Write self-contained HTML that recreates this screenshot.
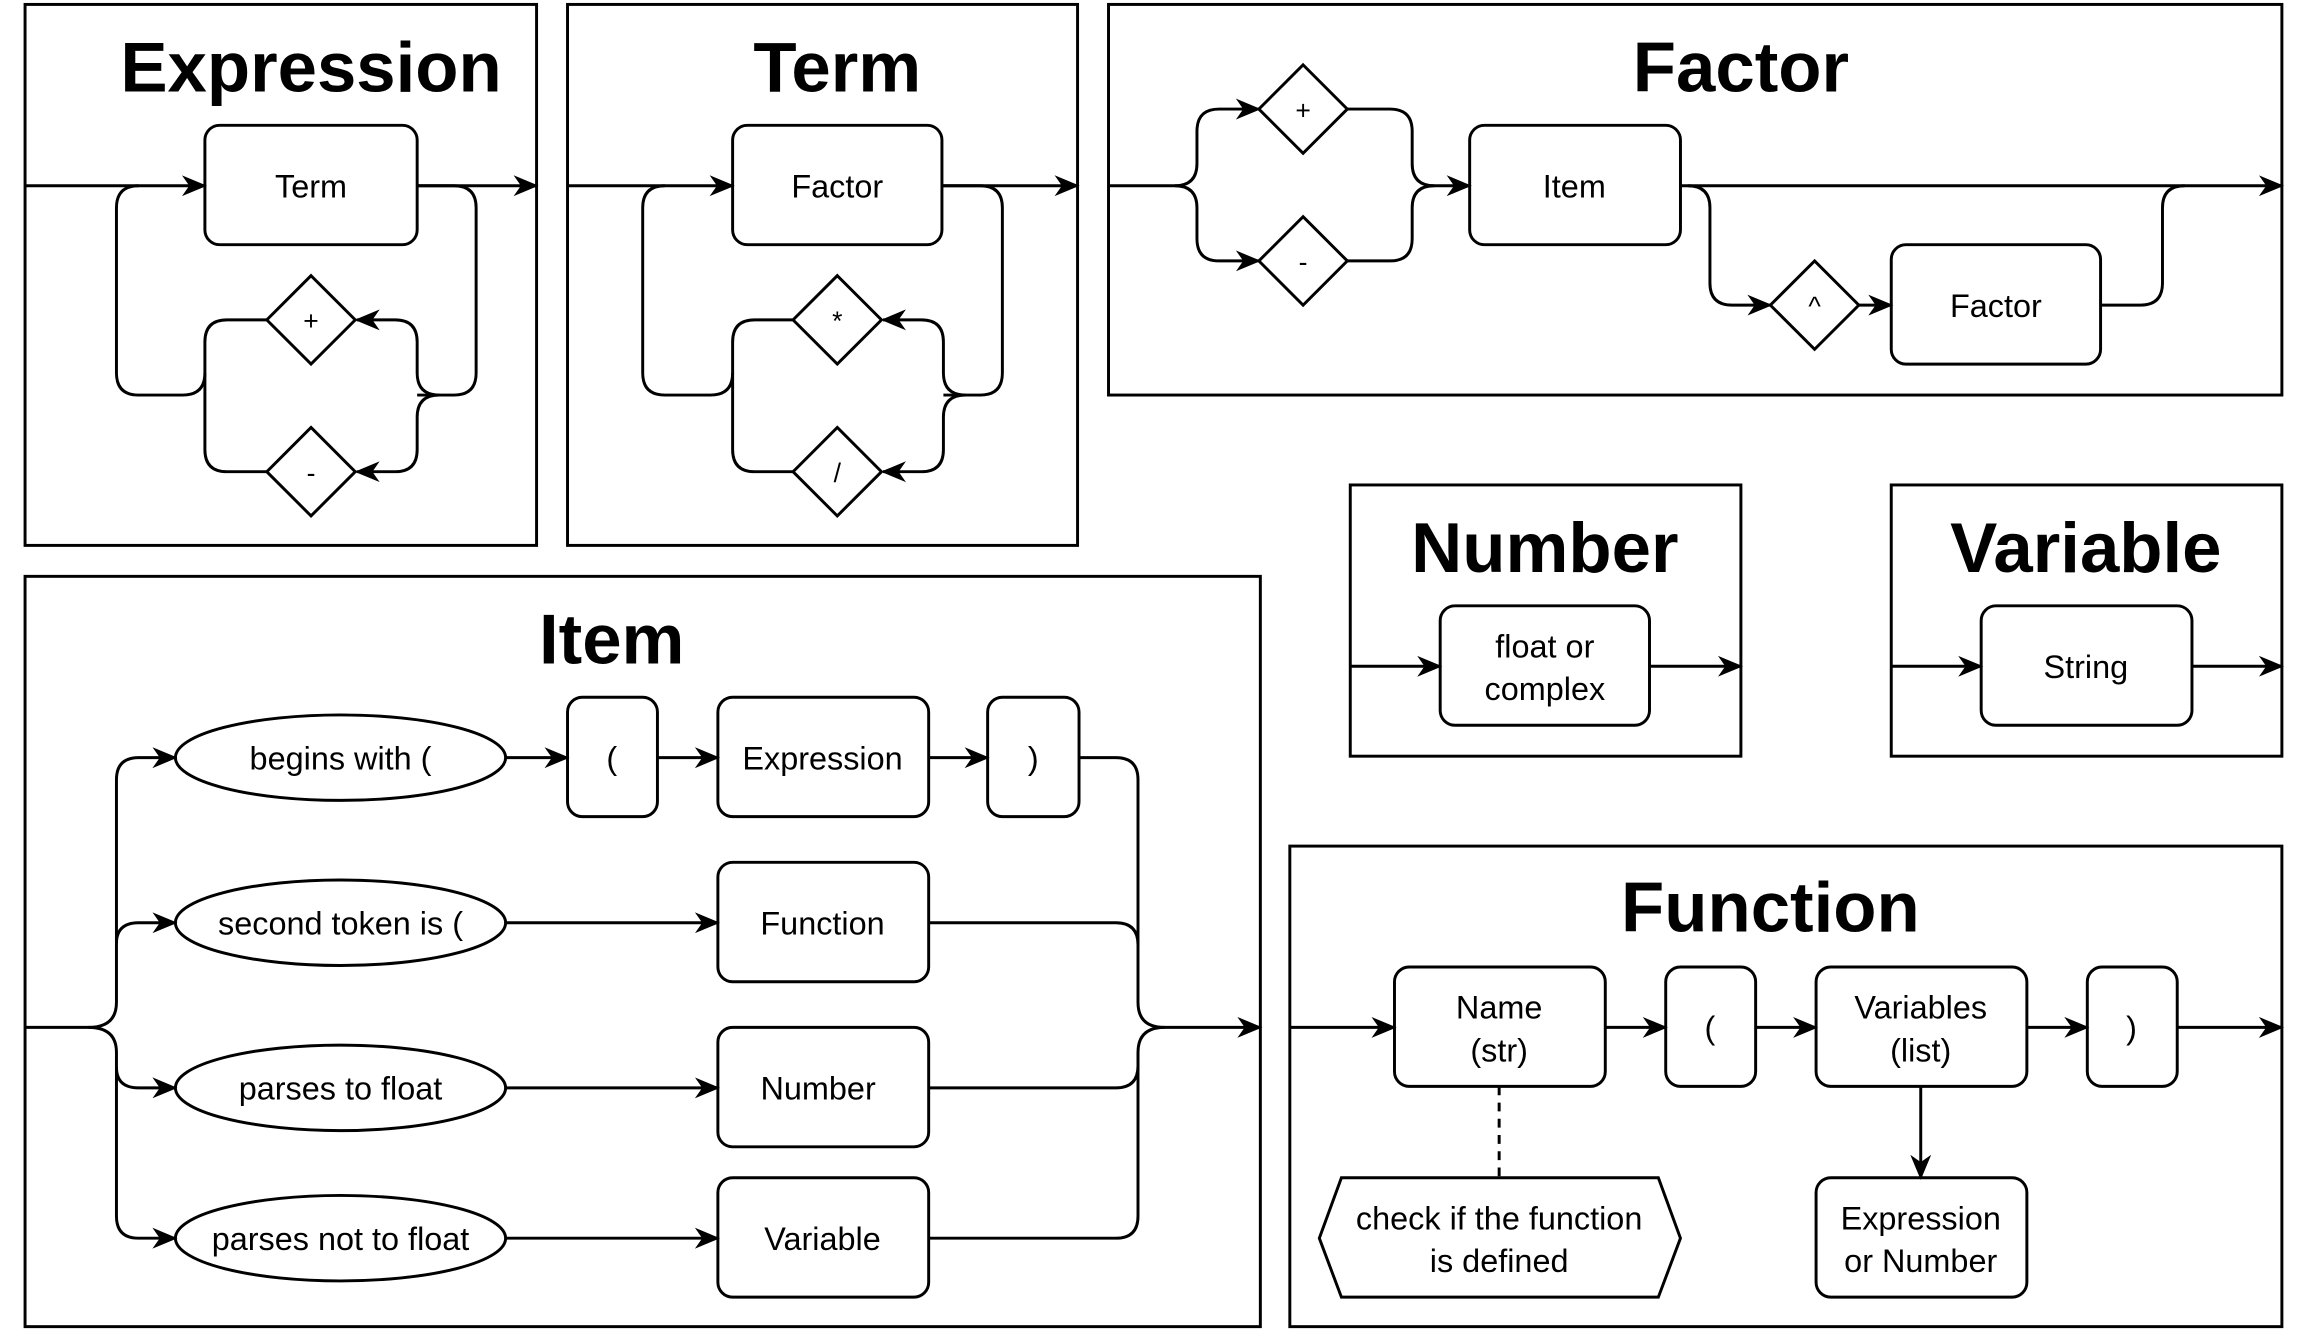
<!DOCTYPE html>
<html><head><meta charset="utf-8"><style>
html,body{margin:0;padding:0;background:#fff;}
svg{display:block;}
text{font-family:"Liberation Sans",sans-serif;fill:#000;}
.t{font-weight:bold;font-size:48px;text-anchor:middle;}
.l{font-size:22px;text-anchor:middle;}
</style></head><body>
<svg width="2304" height="1329" viewBox="0 0 1563 901.6" preserveAspectRatio="none" xmlns="http://www.w3.org/2000/svg">
<defs>
<marker id="a" viewBox="0 0 12 12" refX="11" refY="6" markerWidth="17" markerHeight="17" markerUnits="userSpaceOnUse" orient="auto">
<path d="M0,1 L12,6 L0,11 L3.5,6 Z" fill="#000"/></marker>
</defs>
<g fill="none" stroke="#000" stroke-width="2">
<rect x="17" y="3" width="347" height="367"/>
<rect x="385" y="3" width="346" height="367"/>
<rect x="752" y="3" width="796" height="265"/>
<rect x="916" y="329" width="265" height="184"/>
<rect x="1283" y="329" width="265" height="184"/>
<rect x="17" y="391" width="838" height="509"/>
<rect x="875" y="574" width="673" height="326"/>

<rect x="139" y="85" width="144" height="81" rx="10"/>
<path d="M17,126 L139,126" marker-end="url(#a)"/>
<path d="M283,126 L364,126" marker-end="url(#a)"/>
<path d="M283,126 L308,126 Q323,126 323,141 L323,253 Q323,268 308,268 L283,268"/>
<path d="M298,268 Q283,268 283,253 L283,232 Q283,217 268,217 L242,217" marker-end="url(#a)"/>
<path d="M298,268 Q283,268 283,283 L283,305 Q283,320 268,320 L242,320" marker-end="url(#a)"/>
<polygon points="211,187 241,217 211,247 181,217"/>
<polygon points="211,290 241,320 211,350 181,320"/>
<path d="M181,217 L154,217 Q139,217 139,232 L139,253 Q139,268 124,268 L94,268 Q79,268 79,253 L79,141 Q79,126 94,126"/>
<path d="M181,320 L154,320 Q139,320 139,305 L139,253"/>

<rect x="497" y="85" width="142" height="81" rx="10"/>
<path d="M385,126 L497,126" marker-end="url(#a)"/>
<path d="M639,126 L731,126" marker-end="url(#a)"/>
<path d="M639,126 L665,126 Q680,126 680,141 L680,253 Q680,268 665,268 L640,268"/>
<path d="M655,268 Q640,268 640,253 L640,232 Q640,217 625,217 L599,217" marker-end="url(#a)"/>
<path d="M655,268 Q640,268 640,283 L640,305 Q640,320 625,320 L599,320" marker-end="url(#a)"/>
<polygon points="568,187 598,217 568,247 538,217"/>
<polygon points="568,290 598,320 568,350 538,320"/>
<path d="M538,217 L512,217 Q497,217 497,232 L497,253 Q497,268 482,268 L451,268 Q436,268 436,253 L436,141 Q436,126 451,126"/>
<path d="M538,320 L512,320 Q497,320 497,305 L497,253"/>

<path d="M752,126 L797,126 Q812,126 812,111 L812,89 Q812,74 827,74 L854,74" marker-end="url(#a)"/>
<path d="M797,126 Q812,126 812,141 L812,162 Q812,177 827,177 L854,177" marker-end="url(#a)"/>
<polygon points="884,44 914,74 884,104 854,74"/>
<polygon points="884,147 914,177 884,207 854,177"/>
<path d="M914,74 L943,74 Q958,74 958,89 L958,111 Q958,126 973,126"/>
<path d="M914,177 L943,177 Q958,177 958,162 L958,141 Q958,126 973,126 L997,126" marker-end="url(#a)"/>
<rect x="997" y="85" width="143" height="81" rx="10"/>
<path d="M1140,126 L1548,126" marker-end="url(#a)"/>
<path d="M1145,126 Q1160,126 1160,141 L1160,192 Q1160,207 1175,207 L1201,207" marker-end="url(#a)"/>
<polygon points="1231,177 1261,207 1231,237 1201,207"/>
<path d="M1261,207 L1283,207" marker-end="url(#a)"/>
<rect x="1283" y="166" width="142" height="81" rx="10"/>
<path d="M1425,207 L1452,207 Q1467,207 1467,192 L1467,141 Q1467,126 1482,126"/>

<rect x="977" y="411" width="142" height="81" rx="10"/>
<path d="M916,452 L977,452" marker-end="url(#a)"/>
<path d="M1119,452 L1181,452" marker-end="url(#a)"/>
<rect x="1344" y="411" width="143" height="81" rx="10"/>
<path d="M1283,452 L1344,452" marker-end="url(#a)"/>
<path d="M1487,452 L1548,452" marker-end="url(#a)"/>

<path d="M17,697 L60,697 Q79,697 79,680 L79,529 Q79,514 94,514 L119,514" marker-end="url(#a)"/>
<path d="M79,640 Q79,626 94,626 L119,626" marker-end="url(#a)"/>
<path d="M60,697 Q79,697 79,714 L79,825 Q79,840 94,840 L119,840" marker-end="url(#a)"/>
<path d="M79,724 Q79,738 94,738 L119,738" marker-end="url(#a)"/>
<ellipse cx="231" cy="514" rx="112" ry="29"/>
<ellipse cx="231" cy="626" rx="112" ry="29"/>
<ellipse cx="231" cy="738" rx="112" ry="29"/>
<ellipse cx="231" cy="840" rx="112" ry="29"/>
<path d="M343,514 L385,514" marker-end="url(#a)"/>
<rect x="385" y="473" width="61" height="81" rx="10"/>
<path d="M446,514 L487,514" marker-end="url(#a)"/>
<rect x="487" y="473" width="143" height="81" rx="10"/>
<path d="M630,514 L670,514" marker-end="url(#a)"/>
<rect x="670" y="473" width="62" height="81" rx="10"/>
<path d="M343,626 L487,626" marker-end="url(#a)"/>
<rect x="487" y="585" width="143" height="81" rx="10"/>
<path d="M343,738 L487,738" marker-end="url(#a)"/>
<rect x="487" y="697" width="143" height="81" rx="10"/>
<path d="M343,840 L487,840" marker-end="url(#a)"/>
<rect x="487" y="799" width="143" height="81" rx="10"/>
<path d="M732,514 L757,514 Q772,514 772,529 L772,680 Q772,697 790,697 L855,697" marker-end="url(#a)"/>
<path d="M630,626 L757,626 Q772,626 772,641"/>
<path d="M630,738 L757,738 Q772,738 772,723 L772,714 Q772,697 790,697"/>
<path d="M630,840 L757,840 Q772,840 772,825 L772,714"/>

<path d="M875,697 L946,697" marker-end="url(#a)"/>
<rect x="946" y="656" width="143" height="81" rx="10"/>
<path d="M1089,697 L1130,697" marker-end="url(#a)"/>
<rect x="1130" y="656" width="61" height="81" rx="10"/>
<path d="M1191,697 L1232,697" marker-end="url(#a)"/>
<rect x="1232" y="656" width="143" height="81" rx="10"/>
<path d="M1375,697 L1416,697" marker-end="url(#a)"/>
<rect x="1416" y="656" width="61" height="81" rx="10"/>
<path d="M1477,697 L1548,697" marker-end="url(#a)"/>
<path d="M1017,737 L1017,799" stroke-dasharray="6,5"/>
<polygon points="910,799 1125,799 1140,840 1125,880 910,880 895,840"/>
<path d="M1303,737 L1303,799" marker-end="url(#a)"/>
<rect x="1232" y="799" width="143" height="81" rx="10"/>
</g>

<g>
<text class="t" x="211" y="62">Expression</text>
<text class="t" x="568" y="62">Term</text>
<text class="t" x="1181" y="62">Factor</text>
<text class="t" x="1048" y="388">Number</text>
<text class="t" x="1415" y="388">Variable</text>
<text class="t" x="415" y="450">Item</text>
<text class="t" x="1201" y="632">Function</text>

<text class="l" x="211" y="134">Term</text>
<text class="l" x="211" y="224" style="font-size:18px">+</text>
<text class="l" x="211" y="327" style="font-size:18px">-</text>
<text class="l" x="568" y="134">Factor</text>
<text class="l" x="568" y="224" style="font-size:18px">*</text>
<text class="l" x="568" y="327" style="font-size:18px">/</text>
<text class="l" x="884" y="81" style="font-size:18px">+</text>
<text class="l" x="884" y="184" style="font-size:18px">-</text>
<text class="l" x="1068" y="134">Item</text>
<text class="l" x="1231" y="214" style="font-size:18px">^</text>
<text class="l" x="1354" y="215">Factor</text>
<text class="l" x="1048" y="446">float or</text>
<text class="l" x="1048" y="475">complex</text>
<text class="l" x="1415" y="460">String</text>

<text class="l" x="231" y="522">begins with (</text>
<text class="l" x="231" y="634">second token is (</text>
<text class="l" x="231" y="746">parses to float</text>
<text class="l" x="231" y="848">parses not to float</text>
<text class="l" x="415" y="522">(</text>
<text class="l" x="558" y="522">Expression</text>
<text class="l" x="701" y="522">)</text>
<text class="l" x="558" y="634">Function</text>
<text class="l" x="555" y="746">Number</text>
<text class="l" x="558" y="848">Variable</text>

<text class="l" x="1017" y="691">Name</text>
<text class="l" x="1017" y="720">(str)</text>
<text class="l" x="1160" y="705">(</text>
<text class="l" x="1303" y="691">Variables</text>
<text class="l" x="1303" y="720">(list)</text>
<text class="l" x="1446" y="705">)</text>
<text class="l" x="1017" y="834">check if the function</text>
<text class="l" x="1017" y="863">is defined</text>
<text class="l" x="1303" y="834">Expression</text>
<text class="l" x="1303" y="863">or Number</text>
</g>
</svg>
</body></html>
